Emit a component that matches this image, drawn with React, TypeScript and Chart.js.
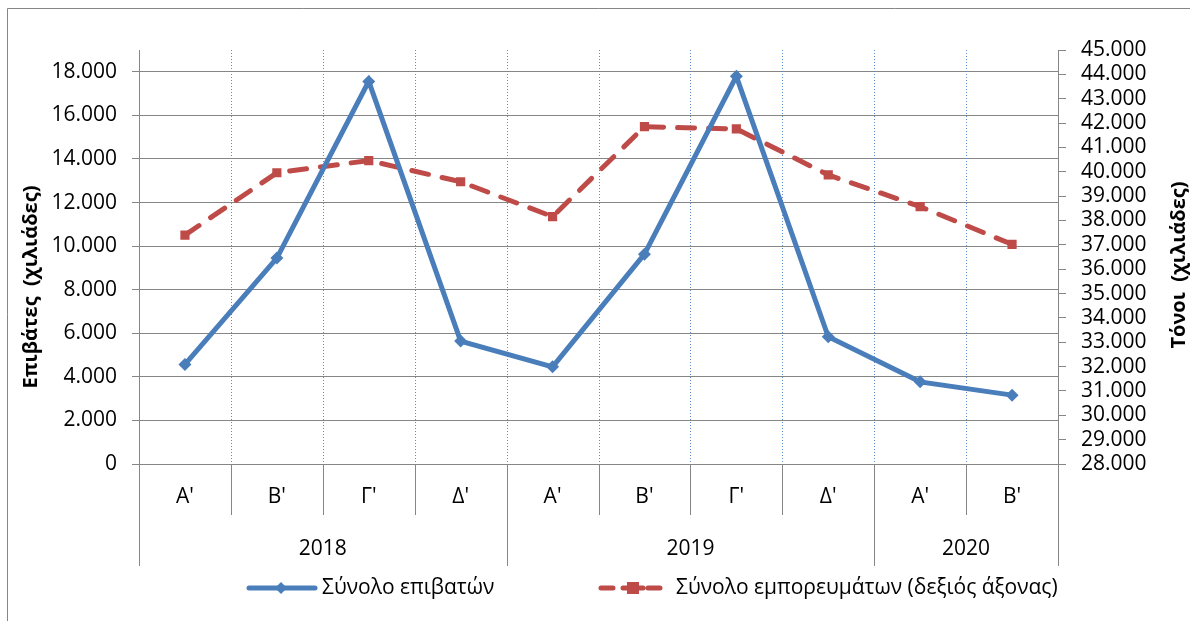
import React, { useEffect, useRef } from "react";
import { Chart, registerables } from "chart.js";

Chart.register(...registerables);

const quarters = ["Α'", "Β'", "Γ'", "Δ'", "Α'", "Β'", "Γ'", "Δ'", "Α'", "Β'"];
const years = ["2018", "2019", "2020"];
const quartersPerYear = [4, 4, 2];
const passengers = [4570, 9450, 17560, 5640, 4460, 9630, 17790, 5840, 3770, 3160];
const goods = [37400, 39960, 40460, 39590, 38160, 41850, 41760, 39870, 38570, 37020];
const leftTicks = [0, 2000, 4000, 6000, 8000, 10000, 12000, 14000, 16000, 18000];
const rightTicks = [
  28000, 29000, 30000, 31000, 32000, 33000, 34000, 35000, 36000, 37000, 38000, 39000, 40000, 41000, 42000,
  43000, 44000, 45000,
];
const passengersLabel = "Σύνολο επιβατών";
const goodsLabel = "Σύνολο εμπορευμάτων (δεξιός άξονας)";
const leftTitle = "Επιβάτες  (χιλιάδες)";
const rightTitle = "Τόνοι  (χιλιάδες)";

const BLUE = "#4A7EBB";
const RED = "#BE4B48";
const GRAY = "#868686";
const FONT = "'Open Sans', 'Noto Sans', sans-serif";

const fmt = (v: number) => String(v).replace(/\B(?=(\d{3})+(?!\d))/g, ".");

const decorPlugin = {
  id: "decor",
  beforeDatasetsDraw(chart: any) {
    const { ctx, chartArea } = chart;
    const x = chart.scales.x;
    const half = (x.getPixelForValue(1) - x.getPixelForValue(0)) / 2;
    ctx.save();
    ctx.strokeStyle = "#5B8BD0";
    ctx.lineWidth = 1;
    ctx.setLineDash([1, 2]);
    for (let i = 1; i < quarters.length; i++) {
      const px = Math.round(x.getPixelForValue(i) - half) + 0.5;
      ctx.beginPath();
      ctx.moveTo(px, chartArea.top);
      ctx.lineTo(px, chartArea.bottom);
      ctx.stroke();
    }
    ctx.restore();
  },
  afterDraw(chart: any) {
    const { ctx, chartArea } = chart;
    const x = chart.scales.x;
    const half = (x.getPixelForValue(1) - x.getPixelForValue(0)) / 2;
    const bottom = chartArea.bottom;
    const catBottom = bottom + 51;
    const yearBottom = bottom + 102;
    ctx.save();
    ctx.setLineDash([]);
    // frame
    ctx.strokeStyle = GRAY;
    ctx.lineWidth = 1;
    ctx.beginPath();
    ctx.moveTo(7.5, 621);
    ctx.lineTo(7.5, 8.5);
    ctx.lineTo(1190, 8.5);
    ctx.stroke();

    // category separators
    const boundaries: number[] = [];
    let acc = 0;
    quartersPerYear.forEach((n) => {
      boundaries.push(acc);
      acc += n;
    });
    boundaries.push(acc);
    for (let i = 0; i <= quarters.length; i++) {
      const px = Math.round(x.getPixelForValue(i) - half) + 0.5;
      const isYear = boundaries.includes(i);
      ctx.beginPath();
      ctx.moveTo(px, bottom);
      ctx.lineTo(px, isYear ? yearBottom : catBottom);
      ctx.stroke();
    }

    // category labels
    ctx.fillStyle = "#000";
    ctx.font = `21px ${FONT}`;
    ctx.textAlign = "center";
    ctx.textBaseline = "middle";
    quarters.forEach((q, i) => {
      ctx.fillText(q, x.getPixelForValue(i), bottom + 33);
    });
    // year labels
    years.forEach((y, k) => {
      const a = x.getPixelForValue(boundaries[k]) - half;
      const b = x.getPixelForValue(boundaries[k + 1]) - half;
      ctx.fillText(y, (a + b) / 2, bottom + 85);
    });

    // axis titles
    ctx.font = `bold 20px ${FONT}`;
    ctx.save();
    ctx.translate(31, 287);
    ctx.rotate(-Math.PI / 2);
    ctx.fillText(leftTitle, 0, 0);
    ctx.restore();
    ctx.save();
    ctx.translate(1179, 265);
    ctx.rotate(-Math.PI / 2);
    ctx.fillText(rightTitle, 0, 0);
    ctx.restore();

    // legend
    const ly = 588;
    ctx.font = `21px ${FONT}`;
    ctx.textAlign = "left";
    // blue
    ctx.strokeStyle = BLUE;
    ctx.lineWidth = 5;
    ctx.lineCap = "round";
    ctx.beginPath();
    ctx.moveTo(249, ly);
    ctx.lineTo(315, ly);
    ctx.stroke();
    ctx.fillStyle = BLUE;
    ctx.beginPath();
    ctx.moveTo(281, ly - 6);
    ctx.lineTo(287, ly);
    ctx.lineTo(281, ly + 6);
    ctx.lineTo(275, ly);
    ctx.closePath();
    ctx.fill();
    ctx.fillStyle = "#000";
    ctx.fillText(passengersLabel, 322, ly);
    // red
    ctx.strokeStyle = RED;
    ctx.lineWidth = 5;
    ctx.beginPath();
    ctx.moveTo(601, ly);
    ctx.lineTo(613, ly);
    ctx.moveTo(623, ly);
    ctx.lineTo(643, ly);
    ctx.moveTo(648, ly);
    ctx.lineTo(660, ly);
    ctx.stroke();
    ctx.fillStyle = RED;
    ctx.fillRect(627, ly - 6, 12, 12);
    ctx.fillStyle = "#000";
    ctx.fillText(goodsLabel, 676, ly);
    ctx.restore();
  },
};

export default function App() {
  const ref = useRef<HTMLCanvasElement>(null);
  useEffect(() => {
    if (!ref.current) return;
    const chart = new Chart(ref.current, {
      type: "line",
      data: {
        labels: quarters,
        datasets: [
          {
            label: passengersLabel,
            data: passengers,
            yAxisID: "y",
            borderColor: BLUE,
            backgroundColor: BLUE,
            borderWidth: 5,
            pointStyle: "rectRot",
            pointRadius: 6.5,
            pointBorderWidth: 0,
            tension: 0,
          },
          {
            label: goodsLabel,
            data: goods,
            yAxisID: "y1",
            borderColor: RED,
            backgroundColor: RED,
            borderWidth: 5,
            borderDash: [17, 14],
            borderCapStyle: "round",
            pointStyle: "rect",
            pointRadius: 6.5,
            pointBorderWidth: 0,
            tension: 0,
          },
        ],
      },
      options: {
        responsive: false,
        animation: false,
        layout: { padding: { top: 50, bottom: 157, left: 0, right: 0 } },
        plugins: { legend: { display: false }, tooltip: { enabled: false } },
        scales: {
          x: { type: "category", display: false, offset: true },
          y: {
            position: "left",
            min: 0,
            max: 19000,
            ticks: {
              color: "#000",
              padding: 15,
              autoSkip: false,
              font: { family: FONT, size: 21 },
              callback: (v: any) => fmt(Number(v)),
            },
            afterBuildTicks: (s: any) => {
              s.ticks = leftTicks.map((value) => ({ value }));
            },
            afterFit: (s: any) => {
              s.width = 139;
            },
            grid: { color: GRAY, lineWidth: 1, tickLength: 7, drawTicks: true },
            border: { display: true, color: GRAY, width: 1 },
          },
          y1: {
            position: "right",
            min: 28000,
            max: 45000,
            ticks: {
              color: "#000",
              padding: 15,
              autoSkip: false,
              font: { family: FONT, size: 21 },
              callback: (v: any) => fmt(Number(v)),
            },
            afterBuildTicks: (s: any) => {
              s.ticks = rightTicks.map((value) => ({ value }));
            },
            afterFit: (s: any) => {
              s.width = 132;
            },
            grid: { drawOnChartArea: false, color: GRAY, tickLength: 8 },
            border: { display: true, color: GRAY, width: 1 },
          },
        },
      },
      plugins: [decorPlugin],
    } as any);
    return () => chart.destroy();
  }, []);
  return (
    <div style={{ position: "fixed", left: 0, top: 0, width: 1190, height: 621, background: "#fff" }}>
      <canvas ref={ref} width={1190} height={621} style={{ display: "block" }} />
    </div>
  );
}
